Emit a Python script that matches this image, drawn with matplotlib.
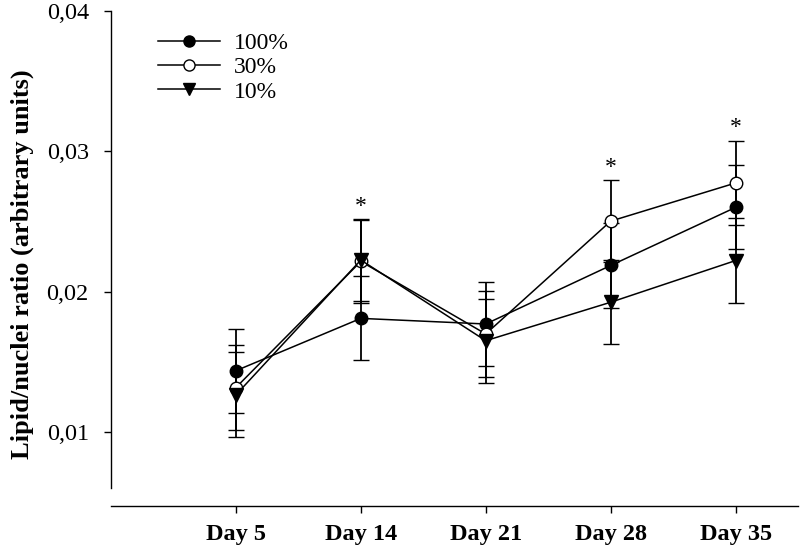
import matplotlib
matplotlib.use("Agg")
import matplotlib.pyplot as plt
from matplotlib.lines import Line2D
import numpy as np

days = ["Day 5", "Day 14", "Day 21", "Day 28", "Day 35"]
series = ["100%", "30%", "10%"]
mean_100 = [0.01436, 0.01809, 0.01769, 0.02186, 0.02600]
err_100 = [0.00300, 0.00300, 0.00300, 0.00300, 0.00300]
mean_30 = [0.01316, 0.02215, 0.01698, 0.02502, 0.02774]
err_30 = [0.00303, 0.00297, 0.00305, 0.00290, 0.00300]
mean_10 = [0.01264, 0.02225, 0.01650, 0.01924, 0.02221]
err_10 = [0.00302, 0.00290, 0.00300, 0.00300, 0.00305]
star_days = ["Day 14", "Day 28", "Day 35"]
yticks = [0.01, 0.02, 0.03, 0.04]
ytick_labels = ["0,01", "0,02", "0,03", "0,04"]

serif = ["Liberation Serif", "DejaVu Serif"]
plt.rcParams["font.family"] = serif

fig = plt.figure(figsize=(8.0, 5.49), dpi=100)
ax = fig.add_axes([0.13875, 0.1111, 0.8588, 0.8689])

for s in ["top", "right"]:
    ax.spines[s].set_visible(False)
ax.spines["bottom"].set_position(("outward", 13))
ax.spines["left"].set_linewidth(1.0)
ax.spines["bottom"].set_linewidth(1.0)

x = np.arange(len(days))
styles = [
    (mean_100, err_100, "o", "black", 9),
    (mean_30, err_30, "o", "white", 9),
    (mean_10, err_10, "v", "black", 10),
]
handles = []
for (m, e, mk, fc, ms), name in zip(styles, series):
    ax.errorbar(x, m, yerr=e, fmt="-", color="black", lw=1.1,
                elinewidth=1.3, capsize=5.5, capthick=1.3,
                marker=mk, markersize=ms, markerfacecolor=fc,
                markeredgecolor="black", markeredgewidth=1.0)
    handles.append(Line2D([], [], color="black", lw=1.1, marker=mk,
                          markersize=ms - 1, markerfacecolor=fc,
                          markeredgecolor="black", markeredgewidth=1.0,
                          label=name))

tops = np.max(np.vstack([np.array(mean_100) + np.array(err_100),
                         np.array(mean_30) + np.array(err_30),
                         np.array(mean_10) + np.array(err_10)]), axis=0)
for d in star_days:
    i = days.index(d)
    ax.annotate("*", xy=(x[i], tops[i]), xytext=(0, 2), textcoords="offset points",
                ha="center", va="bottom", fontsize=17)

ax.set_xlim(-1.0, 4.5)
ax.set_ylim(0.006, 0.04)
ax.tick_params(axis="both", direction="out", length=5, width=1.0)
ax.tick_params(axis="y", pad=11)
ax.tick_params(axis="x", pad=8)
ax.set_xticks(x)
ax.set_xticklabels(days, fontweight="bold", fontsize=17.5)
ax.set_yticks(yticks)
ax.set_yticklabels(ytick_labels, fontsize=17.5)

ax.set_ylabel("Lipid/nuclei ratio (arbitrary units)", fontweight="bold", fontsize=19)
ax.yaxis.set_label_coords(-0.112, 0.47)

leg = ax.legend(handles=handles, loc="upper left", bbox_to_anchor=(0.055, 0.975),
                frameon=False, fontsize=17, handlelength=2.6, handletextpad=0.6,
                labelspacing=0.12, borderaxespad=0)

fig.savefig("out.png", dpi=100)
